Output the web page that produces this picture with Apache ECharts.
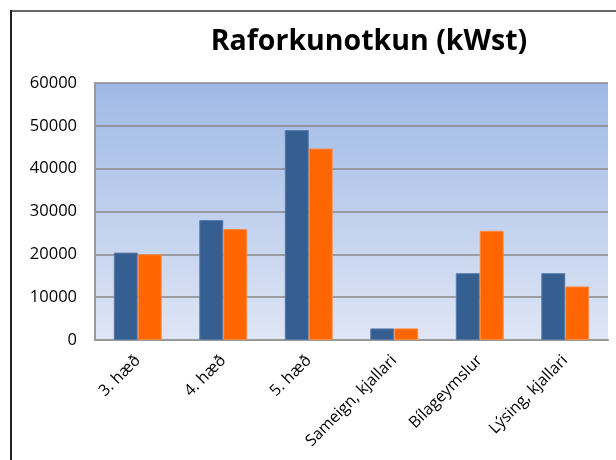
<!DOCTYPE html>
<html><head><meta charset="utf-8">
<script src="https://cdn.jsdelivr.net/npm/echarts@6/dist/echarts.min.js"></script>
<style>html,body{margin:0;padding:0;background:#fff}#c{width:616px;height:460px}</style>
</head><body><div id="c"></div>
<script>
const categories = ['3. hæð', '4. hæð', '5. hæð', 'Sameign, kjallari', 'Bílageymslur', 'Lýsing, kjallari'];
const seriesA = [20400, 28000, 49000, 2700, 15600, 15600];
const seriesB = [20000, 25900, 44700, 2700, 25500, 12500];
const yTicks = { min: 0, max: 60000, interval: 10000 };

const chart = echarts.init(document.getElementById('c'), null, { renderer: 'canvas' });
chart.setOption({
  animation: false,
  backgroundColor: '#fff',
  title: {
    text: 'Raforkunotkun (kWst)',
    left: 364, top: 22, textAlign: 'center',
    textStyle: { fontFamily: 'Open Sans', fontWeight: 'bold', fontSize: 28.5, color: '#000' }
  },
  graphic: [
    { type: 'line', shape: { x1: 10, y1: 11, x2: 616, y2: 11 }, style: { stroke: '#666', lineWidth: 2 }, z: 10 },
    { type: 'line', shape: { x1: 11, y1: 10, x2: 11, y2: 460 }, style: { stroke: '#222', lineWidth: 2 }, z: 10 }
  ],
  grid: {
    left: 95, right: 8, top: 83, bottom: 120,
    show: true, borderWidth: 0,
    backgroundColor: new echarts.graphic.LinearGradient(0, 0, 0, 1, [
      { offset: 0, color: '#9fb9e6' }, { offset: 1, color: '#dfe6f5' }
    ])
  },
  xAxis: {
    type: 'category', data: categories,
    axisLine: { lineStyle: { color: '#999', width: 2 } },
    axisTick: { show: false },
    axisLabel: { rotate: 45, interval: 0, margin: 18, fontFamily: 'Open Sans', fontSize: 16, color: '#000' }
  },
  yAxis: {
    type: 'value', min: yTicks.min, max: yTicks.max, interval: yTicks.interval,
    axisLine: { show: true, lineStyle: { color: '#999', width: 2 } },
    axisTick: { show: false },
    splitLine: { lineStyle: { color: '#888', width: 1.5 } },
    axisLabel: { margin: 18, fontFamily: 'Open Sans', fontSize: 16.5, color: '#000', formatter: v => String(v) }
  },
  series: [
    { type: 'bar', data: seriesA, barGap: '0%', barCategoryGap: '44%',
      itemStyle: { color: '#365f91', borderColor: '#5579a8', borderWidth: 1 } },
    { type: 'bar', data: seriesB,
      itemStyle: { color: '#ff6600', borderColor: '#ff8a40', borderWidth: 1 } }
  ]
});
</script></body></html>
